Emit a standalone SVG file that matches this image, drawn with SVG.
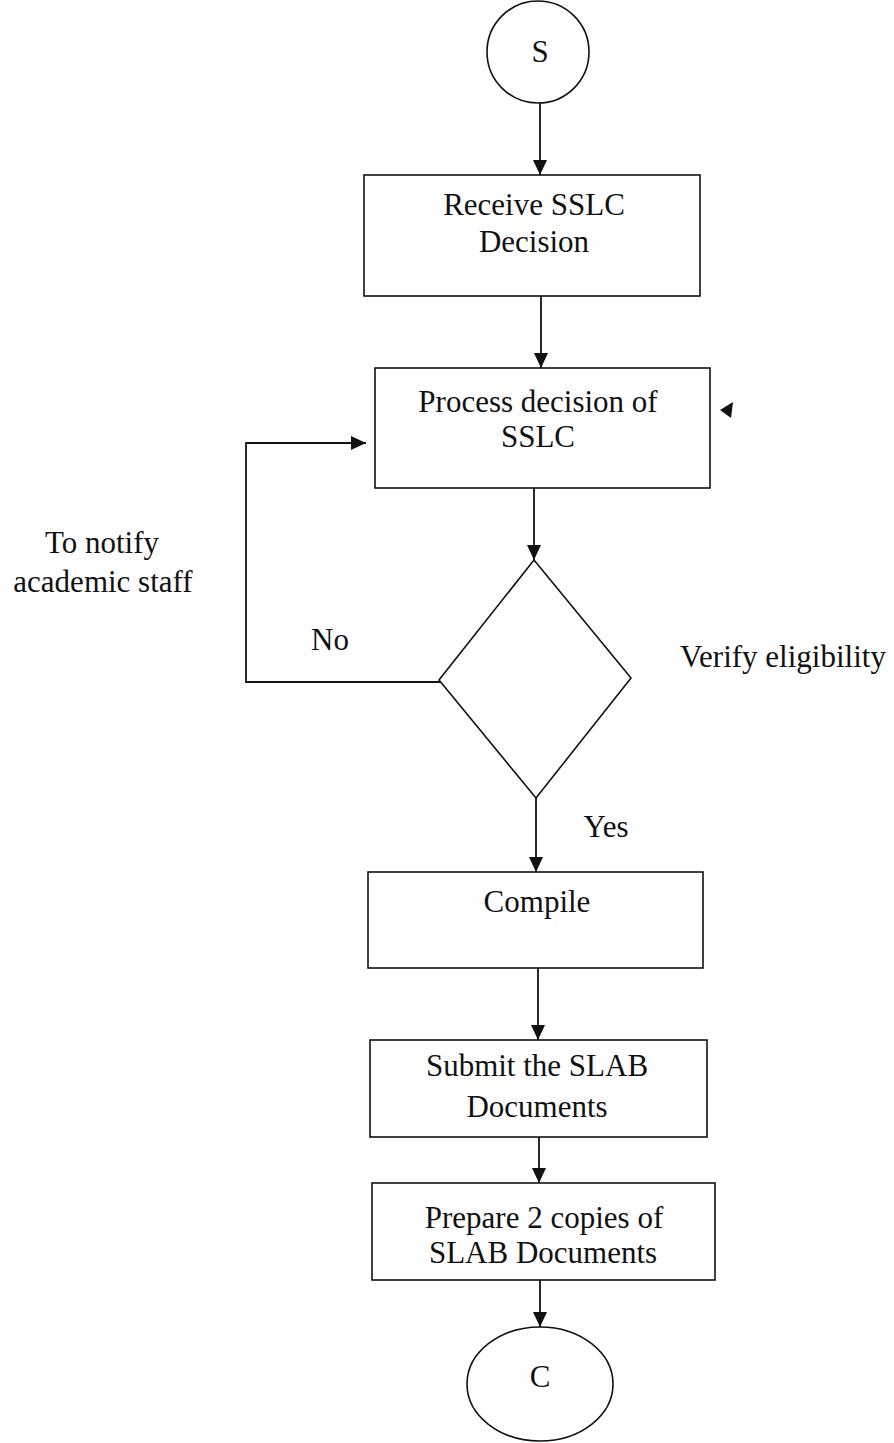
<svg xmlns="http://www.w3.org/2000/svg" width="894" height="1443" viewBox="0 0 894 1443">
<style>
.shape{fill:#fff;stroke:#111;stroke-width:1.6}
.conn{fill:none;stroke:#111;stroke-width:1.8}
text{font-family:"Liberation Serif","Times New Roman",serif;font-size:31px;fill:#111;text-anchor:middle}
</style>
<defs>
<marker id="arr" markerUnits="userSpaceOnUse" markerWidth="16" markerHeight="14" refX="15" refY="7" orient="auto">
<path d="M0,0 L15,7 L0,14 z" fill="#111"/>
</marker>
</defs>
<rect width="894" height="1443" fill="#fff"/>
<g id="connectors">
<line class="conn" x1="540" y1="102" x2="540" y2="175" marker-end="url(#arr)"/>
<line class="conn" x1="541" y1="296" x2="541" y2="368" marker-end="url(#arr)"/>
<line class="conn" x1="534" y1="488" x2="534" y2="560" marker-end="url(#arr)"/>
<line class="conn" x1="536" y1="798" x2="536" y2="872" marker-end="url(#arr)"/>
<line class="conn" x1="538" y1="968" x2="538" y2="1040" marker-end="url(#arr)"/>
<line class="conn" x1="539" y1="1137" x2="539" y2="1183" marker-end="url(#arr)"/>
<line class="conn" x1="540" y1="1280" x2="540" y2="1327" marker-end="url(#arr)"/>
<polyline class="conn" points="440,682 246,682 246,443 366,443" marker-end="url(#arr)"/>
<polygon points="720,410 733,402 731,418" fill="#111"/>
</g>
<g id="start">
<circle class="shape" cx="538" cy="52" r="51"/>
<text x="540" y="62">S</text>
</g>
<g id="receive">
<rect class="shape" x="364" y="175" width="336" height="121"/>
<text x="534" y="215">Receive SSLC</text>
<text x="534" y="252">Decision</text>
</g>
<g id="process">
<rect class="shape" x="375" y="368" width="335" height="120"/>
<text x="538" y="412">Process decision of</text>
<text x="538" y="447">SSLC</text>
</g>
<g id="verify">
<polygon class="shape" points="534,560 631,678 536,798 439,680"/>
<text x="783" y="667">Verify eligibility</text>
</g>
<g id="labels">
<text x="102" y="553">To notify</text>
<text x="103" y="592">academic staff</text>
<text x="330" y="650">No</text>
<text x="606" y="837">Yes</text>
</g>
<g id="compile">
<rect class="shape" x="368" y="872" width="335" height="96"/>
<text x="537" y="912">Compile</text>
</g>
<g id="submit">
<rect class="shape" x="370" y="1040" width="337" height="97"/>
<text x="537" y="1076">Submit the SLAB</text>
<text x="537" y="1117">Documents</text>
</g>
<g id="prepare">
<rect class="shape" x="372" y="1183" width="343" height="97"/>
<text x="544" y="1228">Prepare 2 copies of</text>
<text x="543" y="1263">SLAB Documents</text>
</g>
<g id="end">
<ellipse class="shape" cx="540" cy="1384" rx="73" ry="57"/>
<text x="540" y="1387">C</text>
</g>
</svg>
